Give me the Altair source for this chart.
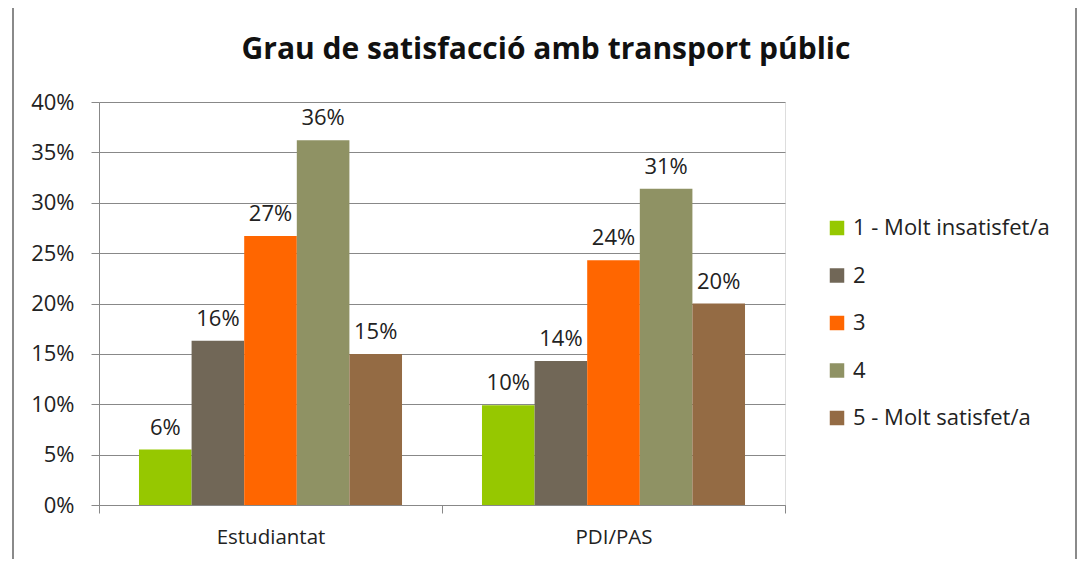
import altair as alt
import pandas as pd

categories = ["Estudiantat", "PDI/PAS"]
levels = ["1 - Molt insatisfet/a", "2", "3", "4", "5 - Molt satisfet/a"]
estudiantat = [0.055, 0.163, 0.267, 0.362, 0.150]
pdi_pas = [0.099, 0.143, 0.243, 0.314, 0.200]
colors = ["#96C800", "#716757", "#FF6600", "#8F9264", "#946B44"]
y_ticks = [0, 0.05, 0.10, 0.15, 0.20, 0.25, 0.30, 0.35, 0.40]

rows = []
for cat, vals in zip(categories, [estudiantat, pdi_pas]):
    for i, (lvl, v) in enumerate(zip(levels, vals)):
        rows.append({"cat": cat, "level": lvl, "order": i, "value": v})
df = pd.DataFrame(rows)

FONT = "Open Sans"
W, H = 686, 403

base = alt.Chart(df).encode(
    x=alt.X("cat:N", sort=categories, title=None,
            scale=alt.Scale(paddingInner=0, paddingOuter=0),
            axis=alt.Axis(labelAngle=0, tickBand="extent", labelFontSize=20.5,
                          labelFont=FONT, labelColor="#222", labelPadding=14,
                          tickSize=8, tickColor="#888", domainColor="#888",
                          grid=False)),
    xOffset=alt.XOffset("level:N", sort=levels,
                        scale=alt.Scale(paddingInner=0, paddingOuter=0.76)),
)

bars = base.mark_bar().encode(
    y=alt.Y("value:Q", title=None,
            scale=alt.Scale(domain=[0, 0.4], nice=False),
            axis=alt.Axis(format="%", values=y_ticks, labelFontSize=22,
                          labelFont=FONT, labelColor="#222", labelPadding=17,
                          tickSize=8, tickColor="#888", domainColor="#888",
                          gridColor="#888", gridWidth=1)),
    color=alt.Color("level:N", sort=levels,
                    scale=alt.Scale(domain=levels, range=colors),
                    legend=alt.Legend(title=None, orient="none", legendX=727,
                                      legendY=115, symbolType="square",
                                      symbolSize=210, symbolStrokeWidth=0,
                                      labelFontSize=22, labelFont=FONT,
                                      labelColor="#222", rowPadding=25.5,
                                      labelOffset=5, labelLimit=0)),
)

labels = base.mark_text(baseline="bottom", dy=-10, fontSize=22, font=FONT,
                        color="#222").encode(
    y=alt.Y("value:Q"),
    text=alt.Text("value:Q", format=".0%"),
)

border_df = pd.DataFrame({"k": [0]})
bcol = "#8a8a8a"
left = alt.Chart(border_df).mark_rule(color=bcol, strokeWidth=2).encode(
    x=alt.value(-86), y=alt.value(-98), y2=alt.value(470))
top = alt.Chart(border_df).mark_rule(color=bcol, strokeWidth=2).encode(
    x=alt.value(-86), x2=alt.value(977), y=alt.value(-98))
right = alt.Chart(border_df).mark_rule(color=bcol, strokeWidth=2).encode(
    x=alt.value(977), y=alt.value(-98), y2=alt.value(470))

chart = alt.layer(bars, labels, left, top, right).properties(
    width=W, height=H,
    title=alt.TitleParams("Grau de satisfacció amb transport públic",
                          font=FONT, fontSize=30, fontWeight="bold",
                          color="#111", anchor="middle", dx=104, offset=0,
                          dy=62),
    autosize=alt.AutoSizeParams(type="none"),
    padding={"left": 91, "top": 94, "right": 293, "bottom": 54},
).configure_view(stroke=None).configure(background="white")

chart.save("out.html", embed_options={"renderer": "svg", "actions": False})
